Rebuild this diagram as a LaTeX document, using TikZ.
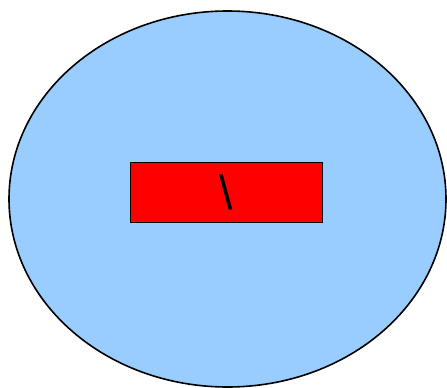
\documentclass[tikz,border=0pt]{standalone}
\usepackage{fontspec}
\setmainfont{Liberation Sans}
\usetikzlibrary{shapes.geometric}
\definecolor{skyfill}{HTML}{99CCFF}
\tikzset{
  blob/.style={ellipse, draw=black, line width=1.6pt, fill=skyfill, minimum width=437pt, minimum height=376pt, inner sep=0pt},
  redbox/.style={rectangle, draw=black, line width=1.6pt, fill=red, minimum width=192pt, minimum height=60pt, inner sep=0pt, font=\fontsize{48}{48}\selectfont}
}
\begin{document}
\begin{tikzpicture}[x=1pt,y=-1pt]
\useasboundingbox (0,0) rectangle (447,388);
\node[blob] (outer) at (227.5,199) {};
\node[redbox] (inner) at (226.5,192.5) {\textbackslash};
\end{tikzpicture}
\end{document}
